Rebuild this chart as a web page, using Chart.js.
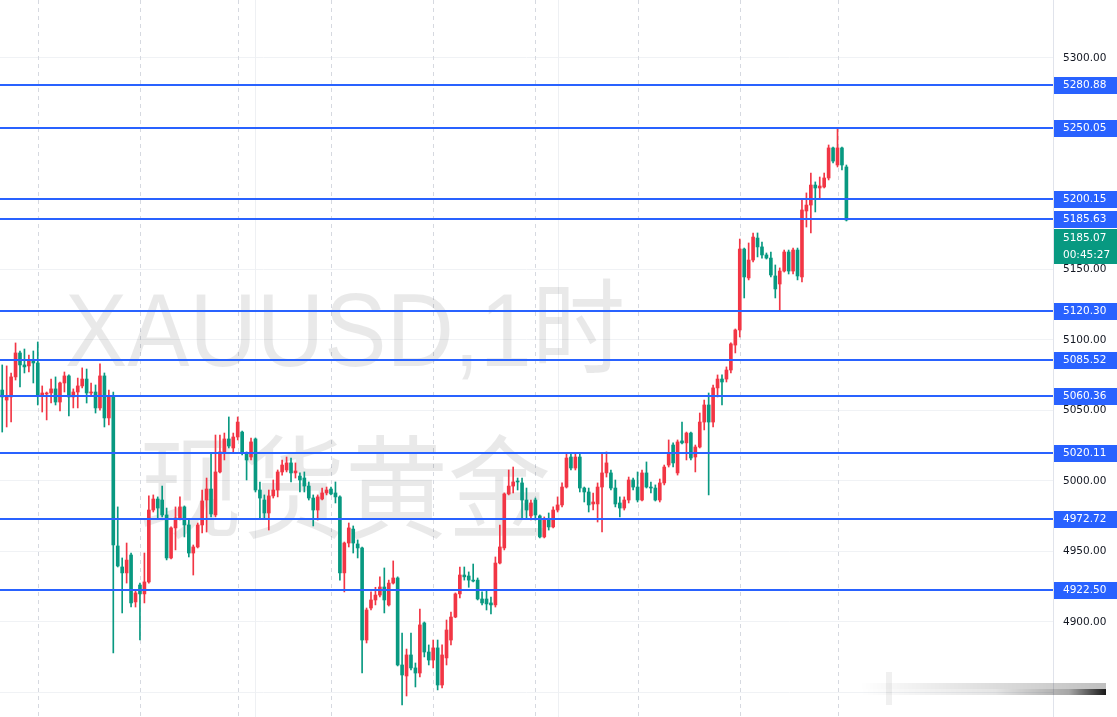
<!DOCTYPE html>
<html><head><meta charset="utf-8">
<script src="https://cdn.jsdelivr.net/npm/chart.js@4.4.1/dist/chart.umd.min.js"></script>
<style>html,body{margin:0;padding:0;background:#fff;overflow:hidden}canvas{display:block}</style>
</head><body>
<canvas id="c" width="1117" height="717"></canvas>
<script>
// XAUUSD 1h candles (oldest -> newest)
const opens = [
5064.5,5057.4,5059.6,5073.8,5090.8,5082.3,5081.6,5085.8,5083.7,5061.0,
5061.7,5062.4,5065.3,5056.0,5069.5,5074.5,5059.6,5063.1,5067.4,5072.3,
5062.4,5063.1,5051.8,5074.5,5044.7,5059.6,4953.9,4939.0,4934.8,4947.5,
4914.2,4926.2,4919.9,4928.4,4979.4,4987.2,4986.5,4975.9,4945.4,4966.7,
4973.8,4981.6,4968.8,4948.9,4953.2,4968.8,4986.5,4994.3,4975.9,5006.4,
5020.6,5029.8,5023.4,5031.2,5034.7,5019.9,5017.0,5029.8,4993.6,4986.5,
4977.3,4989.4,4993.6,5006.4,5007.8,5012.8,5005.7,5003.5,5002.1,4996.4,
4987.9,4979.4,4987.2,4991.5,4994.3,4991.5,4988.7,4934.8,4956.0,4965.9,
4955.3,4952.5,4887.2,4909.9,4915.6,4919.1,4924.8,4912.1,4927.6,4931.2,
4869.5,4861.7,4876.6,4867.4,4863.8,4899.3,4878.7,4873.0,4881.6,4855.3,
4874.5,4887.2,4903.5,4919.9,4933.3,4932.6,4929.7,4929.7,4916.3,4916.3,
4913.5,4912.1,4941.8,4952.5,4990.8,4996.4,5000.0,4998.6,4986.5,4975.2,
4986.5,4975.2,4960.3,4972.3,4967.4,4979.4,4983.0,4995.7,5017.0,5009.2,
5017.0,4995.0,4992.2,4983.7,4983.7,4995.7,5005.7,5005.7,4995.0,4984.4,
4980.8,4986.5,5000.7,4995.7,4986.5,5005.7,4995.7,4995.0,4986.5,4998.6,
5011.3,5025.5,5005.7,5028.4,5027.0,5034.0,5017.0,5024.1,5041.8,5053.9,
5041.8,5066.0,5072.3,5072.3,5078.7,5096.4,5107.1,5164.5,5144.0,5156.7,
5172.3,5166.0,5160.3,5158.1,5145.4,5139.7,5148.9,5162.4,5148.9,5163.8,
5144.7,5191.5,5195.7,5209.9,5207.8,5208.5,5214.9,5236.2,5224.1,5236.2,
5222.7];
const highs = [
5082.3,5081.6,5076.6,5097.9,5092.2,5093.6,5089.3,5092.2,5098.6,5067.4,
5063.1,5072.3,5073.8,5070.2,5077.3,5075.2,5065.3,5073.0,5080.2,5079.4,
5069.5,5068.1,5083.0,5076.6,5064.5,5063.1,4981.6,4945.4,4956.0,4948.9,
4922.7,4927.6,4948.9,4989.4,4990.1,4988.7,4996.4,4980.8,4967.4,4981.6,
4988.7,4982.3,4972.3,4954.6,4970.2,4993.6,5002.1,5019.9,5032.6,5032.6,
5034.0,5045.4,5034.0,5045.4,5035.4,5020.6,5030.5,5030.5,4999.3,4990.1,
4993.6,5000.7,5007.8,5014.9,5017.0,5016.3,5012.8,5005.7,5006.4,4999.3,
4990.1,4990.1,4995.0,4995.7,4995.7,4999.3,4989.4,4956.7,4970.2,4968.1,
4958.2,4953.2,4909.9,4921.3,4924.6,4932.0,4938.3,4929.7,4943.3,4932.0,
4892.2,4880.8,4892.2,4870.9,4909.2,4900.0,4883.7,4887.2,4887.2,4883.7,
4901.4,4907.1,4920.6,4939.0,4939.0,4935.5,4941.1,4931.2,4921.3,4922.7,
4917.7,4946.1,4968.8,4991.5,5007.8,5009.9,5002.1,5002.1,4995.0,4986.5,
4987.9,4975.9,4974.5,4977.3,4981.6,4988.7,4998.6,5019.9,5019.9,5019.9,
5019.9,4995.7,4995.0,4991.5,4998.6,5019.9,5020.6,5007.8,5000.7,4988.7,
4988.7,5002.8,5002.1,5006.4,5007.8,5013.5,4999.3,4997.2,5001.4,5011.3,
5029.1,5027.0,5029.1,5041.8,5034.7,5034.7,5025.5,5048.2,5057.4,5062.4,
5068.1,5075.2,5075.2,5080.9,5097.9,5107.8,5171.6,5165.2,5168.8,5175.9,
5175.9,5169.5,5161.7,5162.4,5153.2,5151.1,5163.8,5163.8,5165.2,5165.2,
5199.3,5204.3,5218.4,5212.1,5215.6,5218.4,5238.3,5236.9,5249.6,5236.9,
5224.1];
const lows = [
5034.7,5038.3,5041.8,5071.6,5066.7,5076.6,5077.3,5069.5,5053.9,5048.9,
5043.3,5055.3,5053.9,5049.6,5063.1,5046.1,5051.8,5051.8,5066.0,5055.3,
5061.0,5048.2,5050.3,5038.3,5039.7,4878.0,4939.0,4906.4,4927.6,4910.6,
4910.6,4887.2,4913.5,4927.6,4978.0,4973.8,4974.5,4944.0,4944.7,4951.1,
4972.3,4960.3,4946.1,4933.3,4952.5,4963.1,4963.8,4974.5,4974.5,5005.7,
5014.9,5023.4,5019.9,5029.1,5018.4,5000.7,5014.9,4992.2,4973.8,4973.8,
4965.2,4987.9,4988.7,5004.2,5006.4,4999.3,5002.1,4992.2,4992.2,4986.5,
4968.1,4972.3,4986.5,4990.1,4990.1,4984.4,4929.7,4921.3,4953.2,4948.9,
4945.4,4863.8,4885.1,4908.5,4912.1,4917.7,4906.4,4911.3,4926.9,4868.8,
4841.1,4847.5,4866.0,4853.9,4861.0,4875.2,4869.5,4867.4,4851.8,4853.2,
4869.5,4883.7,4903.0,4917.0,4929.7,4924.6,4928.4,4915.6,4912.1,4908.5,
4905.7,4910.6,4941.1,4951.1,4990.1,4991.5,4993.6,4973.1,4973.1,4972.3,
4972.3,4959.6,4959.6,4965.2,4966.7,4978.0,4981.6,4995.0,5007.8,5007.8,
4992.2,4985.1,4978.0,4979.4,4970.9,4963.8,5002.8,4993.6,4981.6,4974.5,
4979.4,4984.4,4993.6,4985.1,4985.8,4995.0,4991.5,4985.8,4985.1,4997.2,
5009.9,5009.9,5004.2,5026.3,5014.9,5014.9,5006.4,5023.4,5036.2,4990.1,
5038.3,5059.6,5053.9,5070.2,5076.6,5090.8,5102.1,5129.8,5142.6,5155.3,
5158.9,5158.1,5157.4,5144.7,5129.8,5121.3,5148.2,5146.8,5146.8,5142.6,
5141.1,5180.1,5175.9,5190.8,5200.7,5207.8,5213.5,5225.5,5222.7,5220.6,
5184.4];
const closes = [
5059.6,5059.6,5073.8,5090.8,5082.3,5080.9,5085.8,5083.7,5061.0,5062.4,
5062.4,5065.3,5056.0,5069.5,5074.5,5059.6,5063.1,5067.4,5072.3,5062.4,
5063.1,5051.8,5074.5,5044.7,5059.6,4954.6,4939.7,4934.8,4943.9,4913.5,
4920.6,4919.9,4928.4,4979.4,4987.2,4980.8,4975.9,4945.4,4966.7,4973.8,
4981.6,4968.8,4948.9,4953.2,4968.8,4985.8,4994.3,4976.6,5006.4,5020.6,
5029.8,5024.8,5031.2,5041.8,5019.9,5014.9,5027.7,4993.6,4987.9,4977.3,
4989.4,4993.6,5006.4,5011.3,5012.8,5005.7,5007.1,5000.7,4996.4,4987.9,
4979.4,4988.7,4991.5,4993.6,4990.8,4988.7,4934.8,4956.0,4966.7,4956.0,
4952.5,4887.2,4908.5,4915.6,4919.1,4924.8,4915.6,4927.6,4931.2,4869.5,
4862.4,4876.6,4867.4,4863.8,4897.9,4878.7,4873.0,4881.6,4855.3,4876.6,
4894.3,4903.5,4919.9,4933.3,4932.0,4929.7,4929.0,4916.3,4913.5,4912.8,
4912.1,4941.8,4953.2,4990.8,4996.4,4999.3,4999.3,4986.5,4979.4,4984.4,
4975.9,4960.3,4972.3,4967.4,4979.4,4983.0,4995.7,5016.3,5009.2,5017.0,
4995.0,4992.2,4983.0,4985.1,4995.7,5005.7,5012.8,4995.0,4983.7,4980.8,
4986.5,5000.7,4995.7,4986.5,5005.7,4995.7,4995.0,4986.5,4998.6,5009.9,
5019.9,5012.8,5027.7,5027.0,5034.0,5016.3,5024.1,5041.8,5053.9,5041.8,
5066.0,5072.3,5070.2,5078.7,5097.2,5107.1,5164.5,5144.7,5156.7,5173.0,
5166.0,5160.3,5158.1,5146.1,5136.2,5148.9,5162.4,5148.9,5163.8,5145.4,
5192.2,5195.7,5209.9,5207.8,5209.2,5214.9,5236.2,5226.9,5236.2,5224.1,
5185.07];

// horizontal price levels drawn on the chart
const levels = [5280.88, 5250.05, 5200.15, 5185.63, 5120.30, 5085.52, 5060.36, 5020.11, 4972.72, 4922.50];
// price axis ticks
const priceTicks = [4850, 4900, 4950, 5000, 5050, 5100, 5150, 5200, 5250, 5300];
// bar indices where a new trading session starts (dashed separators)
const sessionBreaks = [8, 31, 53, 74, 97, 120, 143, 166, 188];
// bar indices of the solid time-axis grid lines
const timeGridLines = [57, 125];
const lastPrice = 5185.07;
const countdown = '00:45:27';
const watermark = ['XAUUSD,1时', '现货黄金'];

const TOTAL_SLOTS = 237;
const UP = '#f23645', DOWN = '#089981', LEVEL = '#2962ff';
const AXIS_FONT = '10.5px "DejaVu Sans", sans-serif';

const idx = opens.map((_, i) => i);
const colors = idx.map(i => closes[i] >= opens[i] ? UP : DOWN);

const overlay = {
  id: 'overlay',
  beforeDatasetsDraw(chart) {
    const {ctx, chartArea: a, scales: {x}} = chart;
    ctx.save();
    ctx.lineWidth = 1;
    ctx.strokeStyle = '#eef0f3';
    timeGridLines.forEach(i => {
      const px = Math.round(x.getPixelForValue(i)) + 0.5;
      ctx.beginPath(); ctx.moveTo(px, a.top); ctx.lineTo(px, a.bottom); ctx.stroke();
    });
    ctx.strokeStyle = '#d6d9e0';
    ctx.setLineDash([4, 4]);
    sessionBreaks.forEach(i => {
      const px = Math.round(x.getPixelForValue(i)) + 0.5;
      ctx.beginPath(); ctx.moveTo(px, a.top); ctx.lineTo(px, a.bottom); ctx.stroke();
    });
    ctx.setLineDash([]);
    ctx.fillStyle = 'rgba(0,0,0,0.085)';
    ctx.textAlign = 'center';
    ctx.textBaseline = 'alphabetic';
    ctx.font = '104px "Liberation Sans", "Noto Sans CJK SC", sans-serif';
    ctx.fillText(watermark[0], 345, 366, 560);
    ctx.font = '112px "Noto Sans CJK SC", sans-serif';
    ctx.fillText(watermark[1], 345, 530, 412);
    ctx.restore();
  },
  afterDatasetsDraw(chart) {
    const {ctx, chartArea: a, scales: {y}} = chart;
    ctx.save();
    ctx.strokeStyle = LEVEL;
    ctx.lineWidth = 2;
    levels.forEach(v => {
      const py = Math.round(y.getPixelForValue(v));
      ctx.beginPath(); ctx.moveTo(a.left, py); ctx.lineTo(a.right, py); ctx.stroke();
    });
    ctx.restore();
  },
  afterDraw(chart) {
    const {ctx, chartArea: a, scales: {y}} = chart;
    const W = chart.width;
    ctx.save();
    ctx.font = AXIS_FONT;
    ctx.textAlign = 'left';
    ctx.textBaseline = 'middle';
    let greenTop = 0;
    levels.forEach(v => {
      const py = Math.round(y.getPixelForValue(v));
      ctx.fillStyle = LEVEL;
      ctx.fillRect(a.right + 1, py - 8, W - a.right - 1, 17);
      ctx.fillStyle = '#ffffff';
      ctx.fillText(v.toFixed(2), a.right + 10, py + 0.5);
      if (Math.abs(v - lastPrice) < 2) greenTop = py + 10;
    });
    // last price label (pushed below the overlapping level label)
    ctx.fillStyle = DOWN;
    ctx.fillRect(a.right + 1, greenTop, W - a.right - 1, 35);
    ctx.fillStyle = '#ffffff';
    ctx.fillText(lastPrice.toFixed(2), a.right + 10, greenTop + 9);
    ctx.fillText(countdown, a.right + 10, greenTop + 26);
    // scroll-to-realtime shadow at the bottom right
    const g = ctx.createLinearGradient(860, 0, 1106, 0);
    g.addColorStop(0, 'rgba(0,0,0,0)');
    g.addColorStop(0.55, 'rgba(0,0,0,0.10)');
    g.addColorStop(0.85, 'rgba(0,0,0,0.35)');
    g.addColorStop(1, 'rgba(0,0,0,0.9)');
    ctx.fillStyle = g;
    ctx.fillRect(860, 689, 246, 6);
    const g2 = ctx.createLinearGradient(860, 0, 1106, 0);
    g2.addColorStop(0, 'rgba(0,0,0,0)');
    g2.addColorStop(1, 'rgba(0,0,0,0.25)');
    ctx.fillStyle = g2;
    ctx.fillRect(860, 683, 246, 6);
    ctx.fillStyle = 'rgba(0,0,0,0.06)';
    ctx.fillRect(886, 672, 6, 33);
    ctx.restore();
  }
};

new Chart(document.getElementById('c'), {
  type: 'bar',
  data: {
    datasets: [
      {
        label: 'wick',
        data: idx.map(i => ({x: i, y: [lows[i], highs[i]]})),
        backgroundColor: colors,
        barThickness: 1,
        grouped: false,
        borderWidth: 0
      },
      {
        label: 'body',
        data: idx.map(i => ({x: i, y: [opens[i], closes[i]]})),
        backgroundColor: colors,
        barThickness: 3,
        minBarLength: 1,
        grouped: false,
        borderWidth: 0
      }
    ]
  },
  options: {
    responsive: false,
    animation: false,
    devicePixelRatio: 1,
    layout: {padding: 0},
    plugins: {legend: {display: false}, tooltip: {enabled: false}},
    scales: {
      x: {type: 'linear', min: -0.5, max: TOTAL_SLOTS - 0.5, offset: false, display: false, grid: {offset: false}},
      y: {
        position: 'right',
        min: 4832.6,
        max: 5341.13,
        afterBuildTicks: s => { s.ticks = priceTicks.map(v => ({value: v})); },
        afterFit: s => { s.width = 64; s.paddingTop = 0; s.paddingBottom = 0; },
        grid: {color: '#f0f2f5', drawTicks: false},
        border: {color: '#e0e3eb'},
        ticks: {
          padding: 10,
          color: '#131722',
          font: {family: '"DejaVu Sans", sans-serif', size: 10.5},
          callback: v => v < 4900 ? '' : Number(v).toFixed(2)
        }
      }
    }
  },
  plugins: [overlay]
});
</script>
</body></html>
